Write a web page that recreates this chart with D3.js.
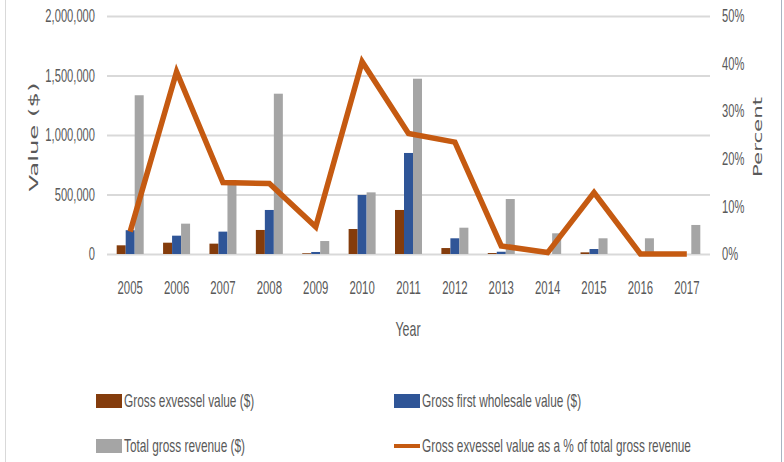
<!DOCTYPE html>
<html>
<head>
<meta charset="utf-8">
<script src="https://cdnjs.cloudflare.com/ajax/libs/d3/7.8.5/d3.min.js"></script>
<style>
  body { margin: 0; background: #fff; }
  svg text { fill: #595959; }
</style>
</head>
<body>
<div id="chart"></div>
<script>
var years = ['2005', '2006', '2007', '2008', '2009', '2010', '2011', '2012', '2013', '2014', '2015', '2016', '2017'];
var exvessel = [73000, 95000, 87000, 202000, 6000, 210000, 370000, 50000, 8000, 500, 14000, 0, 0];
var wholesale = [200000, 154000, 188000, 370000, 17000, 496000, 849000, 132000, 19000, 0, 42000, 0, 0];
var revenue = [1334000, 255000, 585000, 1347000, 109000, 518000, 1473000, 221000, 462000, 174000, 132000, 132000, 244000];
var percent = [4.7, 38.3, 15.0, 14.8, 5.7, 40.4, 25.3, 23.5, 1.7, 0.3, 12.9, 0, 0];
var valueTicks = [0, 500000, 1000000, 1500000, 2000000];
var percentTicks = [0, 10, 20, 30, 40, 50];
var seriesNames = ['Gross exvessel value ($)', 'Gross first wholesale value ($)', 'Total gross revenue ($)'];
var lineName = 'Gross exvessel value as a % of total gross revenue';
var colors = ['#843c0c', '#2f5597', '#a5a5a5'];
var lineColor = '#c55a11';

var width = 784;
var height = 462;
var plot = { left: 107, right: 710, top: 16, bottom: 254 };
var font = '"Liberation Sans", Arial, sans-serif';

// squash text horizontally (the source picture is stretched), scaling round the text's x
function squeeze(sel, k) {
  sel.each(function() {
    var t = d3.select(this);
    var x0 = +t.attr('x') || 0;
    t.attr('x', 0).attr('transform', 'translate(' + x0 + ',0) scale(' + k + ',1)');
  });
}

var svg = d3.select('#chart').append('svg').attr('width', width).attr('height', height);

// frame
svg.append('line').attr('x1', 5.5).attr('x2', 5.5).attr('y1', 0).attr('y2', height).attr('stroke', '#d9d9d9');
svg.append('line').attr('x1', 781.5).attr('x2', 781.5).attr('y1', 0).attr('y2', height).attr('stroke', '#a9b4c2');

var x = d3.scaleBand().domain(years).range([plot.left, plot.right]).paddingInner(0.418).paddingOuter(0.209);
var xs = d3.scaleBand().domain([0, 1, 2]).range([0, x.bandwidth()]);
var y = d3.scaleLinear().domain([0, 2000000]).range([plot.bottom, plot.top]);
var y2 = d3.scaleLinear().domain([0, 50]).range([plot.bottom, plot.top]);

// grid
var grid = svg.append('g').attr('transform', 'translate(' + plot.left + ',0)')
  .call(d3.axisLeft(y).tickValues(valueTicks).tickSize(-(plot.right - plot.left)).tickFormat(''));
grid.select('.domain').remove();
grid.selectAll('line').attr('stroke', '#d9d9d9').attr('stroke-width', 2);

// left axis labels
var leftAxis = svg.append('g').attr('transform', 'translate(95,0)')
  .call(d3.axisLeft(y).tickValues(valueTicks).tickSize(0).tickPadding(0).tickFormat(d3.format(',')));
leftAxis.select('.domain').remove();
leftAxis.selectAll('text').attr('font-family', font).attr('font-size', 18).style('fill', '#595959');
squeeze(leftAxis.selectAll('text'), 0.62);

// right axis labels
var rightAxis = svg.append('g').attr('transform', 'translate(722,0)')
  .call(d3.axisRight(y2).tickValues(percentTicks).tickSize(0).tickPadding(0).tickFormat(function(d) { return d + '%'; }));
rightAxis.select('.domain').remove();
rightAxis.selectAll('text').attr('font-family', font).attr('font-size', 18).style('fill', '#595959');
squeeze(rightAxis.selectAll('text'), 0.62);

// bars
var series = [exvessel, wholesale, revenue];
series.forEach(function(values, s) {
  svg.append('g').selectAll('rect')
    .data(values)
    .enter()
    .append('rect')
    .attr('x', function(d, i) { return x(years[i]) + xs(s); })
    .attr('y', function(d) { return y(d); })
    .attr('width', xs.bandwidth())
    .attr('height', function(d) { return plot.bottom - y(d); })
    .attr('fill', colors[s]);
});

// percent line
var line = d3.line()
  .x(function(d, i) { return x(years[i]) + x.bandwidth() / 2; })
  .y(function(d) { return y2(d); });
svg.append('path')
  .datum(percent)
  .attr('d', line)
  .attr('fill', 'none')
  .attr('stroke', lineColor)
  .attr('stroke-width', 5.5)
  .attr('stroke-linejoin', 'miter');

// year labels
var xAxis = svg.append('g').attr('transform', 'translate(0,' + 287 + ')')
  .call(d3.axisBottom(x).tickSize(0).tickPadding(0));
xAxis.select('.domain').remove();
xAxis.selectAll('text').attr('font-family', font).attr('font-size', 19).attr('dy', '0.35em').style('fill', '#595959');
squeeze(xAxis.selectAll('text'), 0.6);

// axis titles
var yearTitle = svg.append('text').attr('x', 408).attr('y', 329).attr('dy', '0.35em')
  .attr('text-anchor', 'middle').attr('font-family', font).attr('font-size', 20).text('Year');
squeeze(yearTitle, 0.62);

svg.append('text')
  .attr('transform', 'translate(33,137) rotate(-90)')
  .attr('text-anchor', 'middle').attr('dy', '0.35em')
  .attr('font-family', '"DejaVu Sans", Verdana, sans-serif').attr('font-size', 13)
  .attr('textLength', 109).attr('lengthAdjust', 'spacingAndGlyphs')
  .text('Value ($)');

svg.append('text')
  .attr('transform', 'translate(757,137) rotate(-90)')
  .attr('text-anchor', 'middle').attr('dy', '0.35em')
  .attr('font-family', '"DejaVu Sans", Verdana, sans-serif').attr('font-size', 13)
  .attr('textLength', 80).attr('lengthAdjust', 'spacingAndGlyphs')
  .text('Percent');

// legend
var legendItems = [
  { name: seriesNames[0], color: colors[0], type: 'rect', x: 96, y: 401 },
  { name: seriesNames[1], color: colors[1], type: 'rect', x: 394, y: 401 },
  { name: seriesNames[2], color: colors[2], type: 'rect', x: 96, y: 446 },
  { name: lineName, color: lineColor, type: 'line', x: 394, y: 446 }
];
var legend = svg.append('g').selectAll('g').data(legendItems).enter().append('g')
  .attr('transform', function(d) { return 'translate(' + d.x + ',' + d.y + ')'; });
legend.filter(function(d) { return d.type === 'rect'; }).append('rect')
  .attr('x', 0).attr('y', -7).attr('width', 26).attr('height', 14)
  .attr('fill', function(d) { return d.color; });
legend.filter(function(d) { return d.type === 'line'; }).append('line')
  .attr('x1', 0).attr('x2', 26).attr('y1', 0).attr('y2', 0)
  .attr('stroke', function(d) { return d.color; }).attr('stroke-width', 4);
var legendText = legend.append('text')
  .attr('x', 28).attr('dy', '0.35em')
  .attr('font-family', font).attr('font-size', 18.5)
  .text(function(d) { return d.name; });
squeeze(legendText, 0.64);
</script>
</body>
</html>
